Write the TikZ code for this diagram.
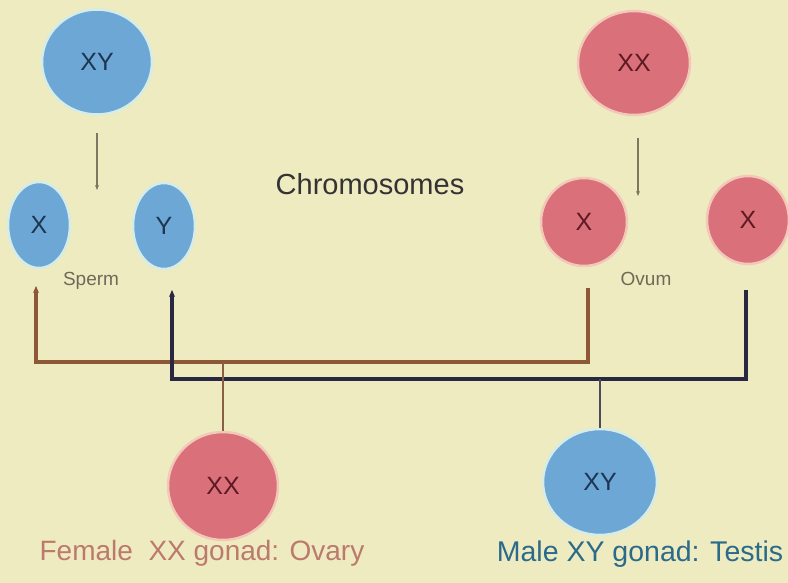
\documentclass[tikz,border=0pt]{standalone}
\usepackage{fontspec}
\setmainfont{Liberation Sans}
\usetikzlibrary{shapes.geometric,arrows.meta,calc}
\definecolor{bg}{HTML}{EFEBC1}
\definecolor{cblue}{HTML}{6CA7D6}
\definecolor{cred}{HTML}{D9707A}
\definecolor{glowb}{HTML}{D6ECE6}
\definecolor{glowr}{HTML}{F2C9B8}
\definecolor{tblue}{HTML}{1E3550}
\definecolor{tred}{HTML}{5E1A22}
\definecolor{brownl}{HTML}{8C5838}
\definecolor{navyl}{HTML}{2A2742}
\definecolor{grayl}{HTML}{7E7660}
\definecolor{femc}{HTML}{BC7A6C}
\definecolor{malec}{HTML}{2A6A8A}
\definecolor{smallt}{HTML}{6E6A58}
\tikzset{
  bluecell/.style={ellipse, fill=cblue, draw=glowb, line width=2.5pt, text=tblue, inner sep=0pt, font=\fontsize{25}{27}\selectfont},
  redcell/.style={ellipse, fill=cred, draw=glowr, line width=2.5pt, text=tred, inner sep=0pt, font=\fontsize{25}{27}\selectfont},
  brownpath/.style={draw=brownl, line width=3.2pt},
  navypath/.style={draw=navyl, line width=3.2pt},
  droparrow/.style={draw=grayl, line width=1.3pt, -{Stealth[length=5pt,width=4pt]}},
  upTip/.style={-{Stealth[length=7pt,width=6pt]}},
  dropline/.style={line width=1.4pt},
}
\begin{document}
\begin{tikzpicture}[x=1pt,y=-1pt]
\useasboundingbox (0,0) rectangle (788,583);
\fill[bg] (0,0) rectangle (788,583);

% parents
\node[bluecell, minimum width=110pt, minimum height=105pt] (pxy) at (97,62) {XY};
\node[redcell, minimum width=112pt, minimum height=104pt] (pxx) at (634,63) {XX};

% gametes
\node[bluecell, minimum width=62pt, minimum height=86pt] (sx) at (39,225) {X};
\node[bluecell, minimum width=62pt, minimum height=86pt] (sy) at (164,226) {Y};
\node[redcell, minimum width=86pt, minimum height=88pt] (ox) at (584,222) {X};
\node[redcell, minimum width=82pt, minimum height=88pt] (ox2) at (748,220) {X};

% offspring
\node[redcell, minimum width=110pt, minimum height=108pt] (fxx) at (223,486) {XX};
\node[bluecell, minimum width=114pt, minimum height=106pt] (mxy) at (600,482) {XY};

% labels
\node[font=\fontsize{29}{31}\selectfont, text=black!80] (chrom) at (370,184) {Chromosomes};
\node[font=\fontsize{19}{21}\selectfont, text=smallt] (sperm) at (91,281) {Sperm};
\node[font=\fontsize{19}{21}\selectfont, text=smallt] (ovum) at (646,279) {Ovum};
\node[font=\fontsize{28}{30}\selectfont, text=femc, anchor=base] (female) at (202,560) {Female\ \ XX gonad: Ovary};
\node[font=\fontsize{28.5}{30}\selectfont, text=malec, anchor=base] (male) at (640,561) {Male XY gonad: Testis};

% meiosis arrows
\coordinate (a1s) at (97,133);
\coordinate (a1e) at (97,190);
\coordinate (a2s) at (638,138);
\coordinate (a2e) at (638,196);
\draw[droparrow] (a1s) -- (a1e);
\draw[droparrow] (a2s) -- (a2e);

% fertilisation paths
\coordinate (b1) at (36,286);
\coordinate (b2) at (588,288);
\coordinate (bh) at (300,362);
\coordinate (n1) at (172,290);
\coordinate (n2) at (746,290);
\coordinate (nh) at (400,379);

\draw[brownpath, upTip] (b2) |- (bh) -| (b1);
\draw[navypath, upTip] (n2) |- (nh) -| (n1);

% drops to offspring
\draw[dropline, draw=brownl!80!gray] (fxx.north |- bh) -- (fxx.north);
\draw[dropline, draw=navyl!60!gray] (mxy.north |- nh) -- (mxy.north);
\end{tikzpicture}
\end{document}
